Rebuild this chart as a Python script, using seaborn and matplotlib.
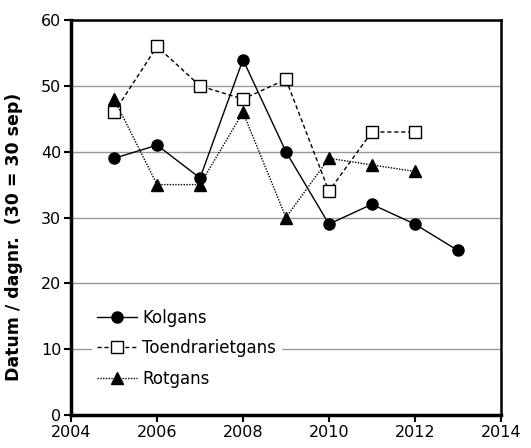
import matplotlib
matplotlib.use("Agg")
import matplotlib.pyplot as plt
import pandas as pd
import seaborn as sns

years_kolgans = [2005, 2006, 2007, 2008, 2009, 2010, 2011, 2012, 2013]
kolgans = [39, 41, 36, 54, 40, 29, 32, 29, 25]
years_toendra = [2005, 2006, 2007, 2008, 2009, 2010, 2011, 2012]
toendrarietgans = [46, 56, 50, 48, 51, 34, 43, 43]
years_rotgans = [2005, 2006, 2007, 2008, 2009, 2010, 2011, 2012]
rotgans = [48, 35, 35, 46, 30, 39, 38, 37]

x_ticks = [2004, 2006, 2008, 2010, 2012, 2014]
y_ticks = [0, 10, 20, 30, 40, 50, 60]

sns.set_style("white")
plt.rcParams['font.family'] = ['DejaVu Sans']
plt.rcParams['text.color'] = 'black'
plt.rcParams['axes.labelcolor'] = 'black'
plt.rcParams['xtick.color'] = 'black'
plt.rcParams['ytick.color'] = 'black'

fig = plt.figure(figsize=(5.31, 4.48), dpi=100)
ax = fig.add_axes([0.134, 0.074, 0.809, 0.881])

series = [
    ("Kolgans", years_kolgans, kolgans, dict(linestyle='-', marker='o', markersize=8,
                                             markerfacecolor='black', markeredgecolor='black')),
    ("Toendrarietgans", years_toendra, toendrarietgans, dict(linestyle=(0, (3, 2)), marker='s', markersize=8,
                                                            markerfacecolor='white', markeredgecolor='black')),
    ("Rotgans", years_rotgans, rotgans, dict(linestyle=(0, (1, 1)), marker='^', markersize=8,
                                             markerfacecolor='black', markeredgecolor='black')),
]
for name, xs, ys, style in series:
    df = pd.DataFrame({'year': xs, 'value': ys})
    sns.lineplot(data=df, x='year', y='value', color='black', linewidth=1.0,
                 label=name, ax=ax, markeredgewidth=1.0, **style)

ax.set_xlim(2004, 2014)
ax.set_ylim(0, 60)
ax.set_xticks(x_ticks)
ax.set_yticks(y_ticks)
ax.yaxis.grid(True, color='#999999', linewidth=1.0)
ax.set_axisbelow(True)
ax.set_xlabel('')
ax.set_ylabel('Datum / dagnr.  (30 = 30 sep)', fontsize=12.5, fontweight='bold')
ax.yaxis.set_label_coords(-0.112, 0.45)
ax.tick_params(axis='both', labelsize=11.5, direction='out', length=5, width=1.5,
               bottom=True, left=True, pad=2)

for side in ['left', 'bottom']:
    ax.spines[side].set_linewidth(2.5)
    ax.spines[side].set_color('black')
for side in ['top', 'right']:
    ax.spines[side].set_linewidth(1.8)
    ax.spines[side].set_color('black')

leg = ax.legend(loc='lower left', bbox_to_anchor=(0.03, 0.035), frameon=True, fontsize=12,
                handlelength=2.4, handletextpad=0.3, labelspacing=0.75, borderpad=0.3)
leg.get_frame().set_edgecolor('white')
leg.get_frame().set_facecolor('white')
leg.get_frame().set_alpha(1.0)

fig.savefig('out.png', dpi=100)
